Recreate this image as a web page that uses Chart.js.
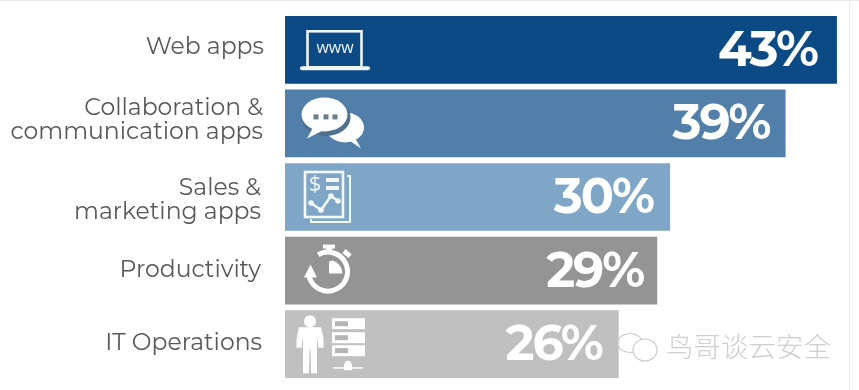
<!DOCTYPE html>
<html><head><meta charset="utf-8">
<script src="https://cdn.jsdelivr.net/npm/chart.js@4"></script>
<style>html,body{margin:0;padding:0;background:#fff}#w{width:859px;height:390px;position:relative}</style>
</head><body><div id="w"><canvas id="c"></canvas></div>
<script>
const categories = [["Web apps"],["Collaboration &","communication apps"],["Sales &","marketing apps"],["Productivity"],["IT Operations"]];
const values = [43,39,30,29,26];
const barColors = ["#0b4a85","#527fa9","#7fa6c6","#949494","#c1c0c1"];
const watermark = "鸟哥谈云安全";

function laptop(g){
  g.strokeStyle="#eef6fa";g.lineWidth=2.6;g.strokeRect(22.5,-18.5,54,36);
  g.lineWidth=4;g.lineCap="round";g.beginPath();g.moveTo(17,18.5);g.lineTo(83,18.5);g.stroke();
  g.fillStyle="#eef6fa";g.font="16px 'Open Sans'";g.textAlign="center";g.textBaseline="middle";g.fillText("www",50,-1);
}
function chat(g){
  g.fillStyle="#fbfdfe";
  g.beginPath();g.ellipse(60,4,19,15,0,0,7);g.fill();
  g.beginPath();g.moveTo(60,14);g.lineTo(76,25);g.lineTo(68,11);g.fill();
  g.fillStyle="#4f6f8e";g.beginPath();g.ellipse(41,-6,24.5,18.5,0,0,7);g.fill();
  g.fillStyle="#fbfdfe";g.beginPath();g.ellipse(39.5,-9,23,17,0,0,7);g.fill();
  g.beginPath();g.moveTo(28,4);g.lineTo(22,15);g.lineTo(38,7);g.fill();
  g.fillStyle="#6c7e8e";[31,41,50].forEach(x=>g.fillRect(x-2.5,-9,5,5));
}
function report(g){
  g.strokeStyle="#f2f7fa";g.fillStyle="#f2f7fa";g.lineWidth=2.6;g.strokeRect(20,-25,38,45);
  g.lineWidth=2;g.beginPath();g.moveTo(62,-21);g.lineTo(65,-21);g.lineTo(65,25);g.lineTo(26,25);g.lineTo(26,22);g.stroke();
  g.font="22px 'Open Sans'";g.textAlign="center";g.textBaseline="middle";g.fillText("$",30,-12);
  g.fillRect(41,-19,13,4);g.fillRect(41,-11,13,4);
  g.lineWidth=2.5;g.beginPath();g.moveTo(26,6);g.lineTo(36,13);g.lineTo(46,-1);g.lineTo(53,4);g.stroke();
  [[26,6],[36,13],[46,-1],[53,4]].forEach(p=>{g.beginPath();g.arc(p[0],p[1],2.8,0,7);g.fill();});
}
function watch(g){
  g.strokeStyle="#fff";g.fillStyle="#fff";g.lineWidth=5;
  g.beginPath();g.arc(43,1,19.5,-2.1,3.0,false);g.stroke();
  g.beginPath();g.moveTo(19,7);g.lineTo(32,7);g.lineTo(25.5,-6);g.fill();
  g.fillRect(38,-26,12,4);g.fillRect(41,-23,6,6);
  g.save();g.translate(62,-17);g.rotate(.7);g.fillRect(-4,-2.5,8,5);g.restore();
  g.beginPath();g.moveTo(44,-9);g.lineTo(44,3);g.lineTo(58,3);g.arc(44,3,13.5,0,-1.3,true);g.closePath();g.fill();
}
function people(g){
  g.fillStyle="#fff";
  g.beginPath();g.arc(25,-23,6,0,7);g.fill();
  g.beginPath();g.moveTo(14,-17);g.lineTo(36,-17);g.lineTo(38.5,-6);g.lineTo(38.5,3.5);g.lineTo(33.5,3.5);g.lineTo(32,-7);g.lineTo(32,29);g.lineTo(26,29);g.lineTo(25.5,5);g.lineTo(24.5,5);g.lineTo(24,29);g.lineTo(18,29);g.lineTo(18,-7);g.lineTo(16.5,3.5);g.lineTo(11.5,3.5);g.lineTo(11.5,-6);g.closePath();g.fill();
  [-26,-12,1].forEach(y=>{g.fillStyle="#fff";g.fillRect(47,y,33,11);g.fillStyle="#b5b5b5";g.fillRect(50,y+3,13,5);});
  g.fillStyle="#fff";g.fillRect(48,23,30,1.5);g.beginPath();g.arc(63,20,3.5,0,7);g.fill();g.fillRect(59,20,8,6);
}
const icons=[laptop,chat,report,watch,people];

const decorations={
  id:"decor",
  beforeDraw(ch){
    // per-label nudges: the original's labels are not evenly set against their bars
    const items=ch.scales.y.getLabelItems();
    const nudge=[[7,-3],[6,-3],[4,3],[4,-1],[5,-1]];
    items.forEach((it,i)=>{
      if(it.__n)return;it.__n=1;
      it.options.translation=[it.options.translation[0]+nudge[i][0],it.options.translation[1]+nudge[i][1]];
    });
  },
  afterDatasetsDraw(ch){
    const g=ch.ctx,bars=ch.getDatasetMeta(0).data;
    const inset=[20,16,17,14,17];
    bars.forEach((b,i)=>{
      g.save();g.translate(b.base,b.y);icons[i](g);g.restore();
      g.save();g.fillStyle="#fff";g.font="700 49px Montserrat";g.textAlign="right";g.textBaseline="middle";
      g.letterSpacing="-2px";
      g.fillText(values[i]+"%",b.x-inset[i],b.y+1.5);g.restore();
    });
    g.save();g.font="300 27.5px 'Noto Sans CJK SC'";g.fillStyle="#cfcfd2";g.textAlign="left";g.textBaseline="middle";
    g.fillText(watermark,666,347);
    g.strokeStyle="#cbcbcd";g.lineWidth=1.2;g.fillStyle="#fff";
    g.beginPath();g.ellipse(630,343,12,9.5,0,0,7);g.stroke();
    g.beginPath();g.ellipse(645,350,12,11,0,0,7);g.fill();g.stroke();
    g.restore();
    g.save();g.fillStyle="#e9e9ee";g.fillRect(849,0,1,390);g.fillRect(0,0,859,1);g.restore();
  }
};
new Chart(document.getElementById("c"),{
  type:"bar",
  data:{labels:categories,datasets:[{data:values,backgroundColor:barColors,borderWidth:0,barPercentage:0.92,categoryPercentage:1}]},
  plugins:[decorations],
  options:{
    indexAxis:"y",responsive:true,maintainAspectRatio:false,animation:false,
    layout:{padding:{left:0,right:0,top:13,bottom:9}},
    plugins:{legend:{display:false},tooltip:{enabled:false}},
    scales:{
      x:{min:0,max:44.72,display:false},
      y:{grid:{display:false},border:{display:false},
        afterFit(a){a.width=285;a.paddingTop=0;a.paddingBottom=0;},
        ticks:{color:"#58595b",font:{family:"Montserrat",size:23.5,lineHeight:1.03},padding:20}}
    }
  }
});
</script></body></html>
